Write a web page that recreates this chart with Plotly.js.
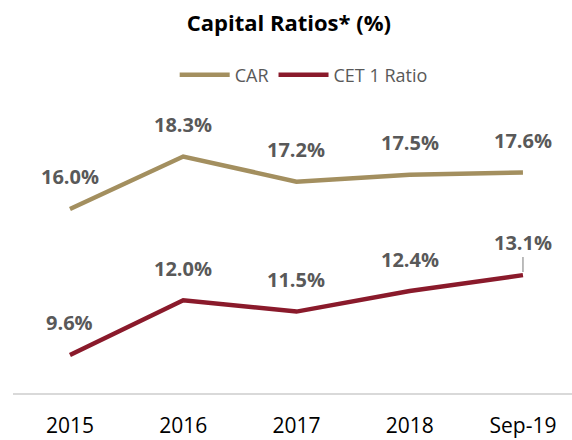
<!DOCTYPE html>
<html>
<head>
<meta charset="utf-8">
<script src="https://cdn.plot.ly/plotly-3.0.1.min.js"></script>
<style>
  html, body { margin: 0; padding: 0; background: #fff; }
  #plot { width: 572px; height: 440px; }
</style>
</head>
<body>
<div id="plot"></div>
<script>
const categories = ['2015', '2016', '2017', '2018', 'Sep-19'];
const carValues = [16.0, 18.3, 17.2, 17.5, 17.6];
const cetValues = [9.6, 12.0, 11.5, 12.4, 13.1];

const carColor = '#A38F5F';
const cetColor = '#8A1A2B';
const labelFont = { family: 'Open Sans, sans-serif', size: 20, color: '#595959', weight: 'bold' };

const traces = [
    {
        x: categories,
        y: carValues,
        type: 'scatter',
        mode: 'lines',
        name: 'CAR',
        line: { color: carColor, width: 4.5 }
    },
    {
        x: categories,
        y: cetValues,
        type: 'scatter',
        mode: 'lines',
        name: 'CET 1 Ratio',
        line: { color: cetColor, width: 4.5 }
    }
];

// data labels sit well above each point (x given as category index)
const annotations = [];
function addLabels(values, isCet) {
    values.forEach(function (v, i) {
        const leader = isCet && i === values.length - 1;
        annotations.push({
            x: i,
            y: v,
            text: v.toFixed(1) + '%',
            font: labelFont,
            showarrow: leader,
            arrowhead: 0,
            arrowcolor: '#a6a6a6',
            arrowwidth: 1.5,
            ax: 0,
            ay: leader ? -33 : 0,
            standoff: 3,
            yshift: leader ? 0 : 32
        });
    });
}
addLabels(carValues, false);
addLabels(cetValues, true);

const layout = {
    width: 572,
    height: 440,
    margin: { l: 13, r: 0, t: 100, b: 47 },
    paper_bgcolor: '#fff',
    plot_bgcolor: '#fff',
    font: { family: 'Open Sans, sans-serif' },
    title: {
        text: 'Capital Ratios* (%)',
        font: { family: 'Open Sans, sans-serif', size: 22, color: '#000', weight: 'bold' },
        x: 0.505,
        xanchor: 'center',
        y: 0.948,
        yanchor: 'middle'
    },
    showlegend: true,
    legend: {
        orientation: 'h',
        x: 0.52,
        xanchor: 'center',
        y: 1.085,
        yanchor: 'middle',
        font: { family: 'Open Sans, sans-serif', size: 18, color: '#595959' },
        itemwidth: 50
    },
    xaxis: {
        type: 'category',
        range: [-0.503, 4.433],
        showline: true,
        linecolor: '#d9d9d9',
        linewidth: 2,
        showgrid: false,
        zeroline: false,
        ticks: 'outside',
        ticklen: 13,
        tickcolor: 'rgba(0,0,0,0)',
        tickfont: { family: 'Open Sans, sans-serif', size: 21, color: '#000' },
        fixedrange: true
    },
    yaxis: {
        range: [7.93, 20.78],
        visible: false,
        showgrid: false,
        zeroline: false,
        fixedrange: true
    },
    annotations: annotations
};

Plotly.newPlot('plot', traces, layout, { displayModeBar: false, staticPlot: true });
</script>
</body>
</html>
